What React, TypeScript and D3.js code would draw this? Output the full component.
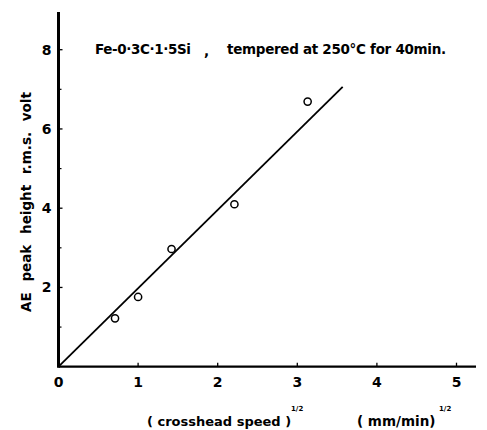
import React from "react";
import * as d3 from "d3";

const speedX = [0.71, 1.0, 1.42, 2.21, 3.13];
const peakY = [1.22, 1.76, 2.97, 4.1, 6.69];
const fitX = [0, 3.57];
const fitY = [0, 7.06];
const xTicks = [0, 1, 2, 3, 4, 5];
const yTicks = [2, 4, 6, 8];
const yMinor = [1, 3, 5, 7];

const W = 487;
const H = 430;
const font = "'DejaVu Sans', sans-serif";

export default function App() {
  const x = d3.scaleLinear().domain([0, 5]).range([58.5, 456.5]);
  const y = d3.scaleLinear().domain([0, 8]).range([366.7, 49.7]);
  const line = d3
    .line<number>()
    .x((_, i) => x(fitX[i]))
    .y((_, i) => y(fitY[i]));

  return (
    <svg
      width={W}
      height={H}
      style={{ position: "absolute", left: 0, top: 0, background: "#fff" }}
    >
      {/* axes */}
      <line x1={x(0)} x2={476} y1={y(0)} y2={y(0)} stroke="#000" strokeWidth={2.2} />
      <line x1={x(0)} x2={x(0)} y1={12} y2={y(0) + 1} stroke="#000" strokeWidth={3} />

      {/* x ticks */}
      {xTicks.map((t) => (
        <g key={"xt" + t}>
          {t > 0 && (
            <line x1={x(t)} x2={x(t)} y1={y(0)} y2={y(0) - 4} stroke="#000" strokeWidth={1.3} />
          )}
          <text
            x={x(t)}
            y={y(0) + 20}
            textAnchor="middle"
            fontFamily={font}
            fontWeight="bold"
            fontSize={14}
          >
            {t}
          </text>
        </g>
      ))}

      {/* y ticks */}
      {yTicks.map((t) => (
        <g key={"yt" + t}>
          <line x1={x(0)} x2={x(0) + 4} y1={y(t)} y2={y(t)} stroke="#000" strokeWidth={1.3} />
          <text
            x={x(0) - 12}
            y={y(t) + 5}
            textAnchor="middle"
            fontFamily={font}
            fontWeight="bold"
            fontSize={14}
          >
            {t}
          </text>
        </g>
      ))}
      {yMinor.map((t) => (
        <line key={"ym" + t} x1={x(0)} x2={x(0) + 3} y1={y(t)} y2={y(t)} stroke="#000" strokeWidth={1.2} />
      ))}

      {/* fit line */}
      <path d={line(fitX) || ""} fill="none" stroke="#000" strokeWidth={1.8} />

      {/* data points */}
      {speedX.map((v, i) => (
        <circle
          key={"p" + i}
          cx={x(v)}
          cy={y(peakY[i])}
          r={3.6}
          fill="#fff"
          stroke="#000"
          strokeWidth={1.5}
        />
      ))}

      {/* title */}
      <text x={95} y={54} fontFamily={font} fontWeight="bold" fontSize={13.5} letterSpacing={-0.4}>
        Fe-0·3C·1·5Si
      </text>
      <text x={204} y={56} fontFamily={font} fontWeight="bold" fontSize={13.5}>
        ,
      </text>
      <text x={227} y={54} fontFamily={font} fontWeight="bold" fontSize={13.5} letterSpacing={-0.3}>
        tempered at 250°C for 40min.
      </text>

      {/* y label */}
      <text
        transform={`translate(31,${202}) rotate(-90)`}
        textAnchor="middle"
        fontFamily={font}
        fontWeight="bold"
        fontSize={13.5}
        wordSpacing={6}
      >
        AE peak height r.m.s. volt
      </text>

      {/* x label */}
      <text x={147} y={426} fontFamily={font} fontWeight="bold" fontSize={13}>
        ( crosshead speed )
      </text>
      <text x={291} y={411} fontFamily={font} fontWeight="bold" fontSize={7}>
        1/2
      </text>
      <text x={357} y={426} fontFamily={font} fontWeight="bold" fontSize={13.5}>
        ( mm/min)
      </text>
      <text x={439} y={411} fontFamily={font} fontWeight="bold" fontSize={7}>
        1/2
      </text>
    </svg>
  );
}
